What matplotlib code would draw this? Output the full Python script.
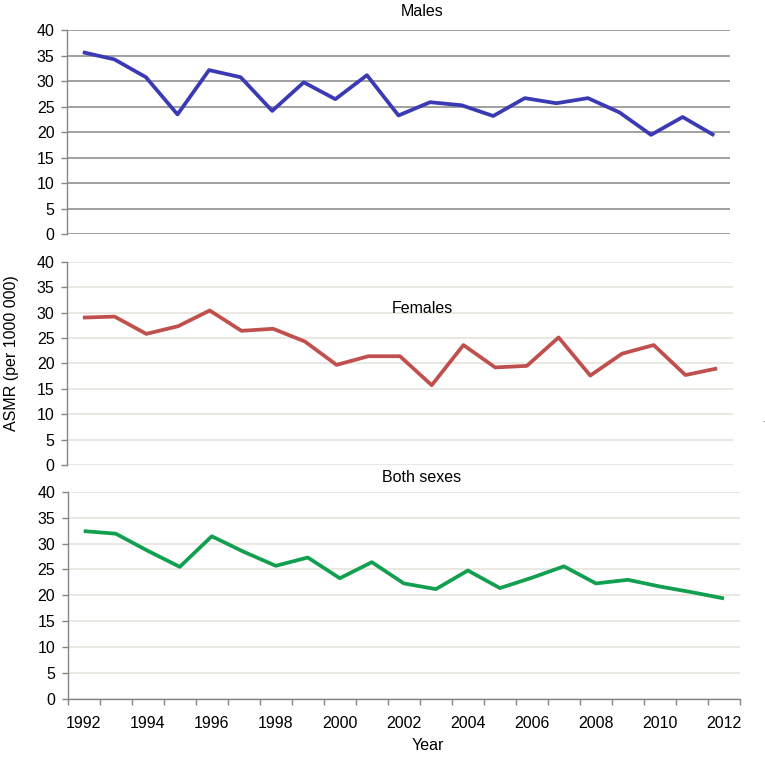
import matplotlib
matplotlib.use("Agg")
import matplotlib.pyplot as plt
import numpy as np

plt.rcParams['font.family'] = ['Liberation Sans', 'DejaVu Sans']

years = list(range(1992, 2013))
males = [35.7, 34.3, 30.8, 23.5, 32.2, 30.8, 24.2, 29.8, 26.5, 31.2, 23.3,
         25.9, 25.3, 23.2, 26.7, 25.7, 26.7, 23.9, 19.5, 23.0, 19.4]
females = [29.0, 29.2, 25.8, 27.3, 30.4, 26.4, 26.8, 24.3, 19.7, 21.4, 21.4,
           15.7, 23.6, 19.2, 19.5, 25.1, 17.6, 21.9, 23.6, 17.7, 19.0]
both = [32.4, 31.9, 28.6, 25.5, 31.4, 28.4, 25.7, 27.3, 23.3, 26.4, 22.3,
        21.2, 24.8, 21.4, 23.4, 25.6, 22.3, 23.0, 21.7, 20.6, 19.4]
titles = ["Males", "Females", "Both sexes"]
yticks = [0, 5, 10, 15, 20, 25, 30, 35, 40]

FS = 11.5
W, H = 765, 757
fig = plt.figure(figsize=(W / 100, H / 100), dpi=100)

def px_axes(l, r, t, b):
    return fig.add_axes([l / W, 1 - b / H, (r - l) / W, (b - t) / H])

panels = [
    dict(box=(67, 730, 30.3, 234.3), data=males, color="#3a3ab4", grid="#868686",
         title_y=12),
    dict(box=(67, 733, 261.7, 465), data=females, color="#c0504d", grid="#e4e1d8",
         title_y=309),
    dict(box=(67.7, 740, 491.7, 699), data=both, color="#12a050", grid="#e4e1d8",
         title_y=478),
]

x = np.arange(len(years))
for i, p in enumerate(panels):
    ax = px_axes(*p["box"])
    ax.plot(x, p["data"], color=p["color"], lw=2.7, solid_capstyle="butt", zorder=3)
    ax.set_xlim(-0.5, len(years) - 0.5)
    ax.set_ylim(0, 40)
    ax.set_yticks(yticks)
    ax.set_yticklabels([str(v) for v in yticks], fontsize=FS)
    for v in yticks:
        ax.axhline(v, color=p["grid"], lw=1.1, zorder=1)
    for s in ["top", "right", "bottom"]:
        ax.spines[s].set_visible(False)
    ax.spines["left"].set_color("#868686")
    ax.spines["left"].set_linewidth(1.0)
    ax.tick_params(axis="y", length=4, width=1, color="#868686", pad=5,
                   labelcolor="#000000")
    ax.patch.set_alpha(0)
    fig.text(422 / W, 1 - p["title_y"] / H, titles[i], ha="center", va="center",
             fontsize=FS)
    if i < 2:
        ax.set_xticks([])
    else:
        ax.spines["bottom"].set_visible(True)
        ax.spines["bottom"].set_color("#868686")
        ax.spines["bottom"].set_linewidth(1.0)
        ax.set_xticks(x[::2])
        ax.set_xticklabels([str(y) for y in years[::2]], fontsize=FS)
        ax.tick_params(axis="x", which="major", length=0, pad=12)
        ax.set_xticks(np.arange(-0.5, len(years)), minor=True)
        ax.tick_params(axis="x", which="minor", length=4, width=1, color="#868686")

fig.text(12 / W, 1 - 353 / H, "ASMR (per 1000 000)", rotation=90, ha="center",
         va="center", fontsize=FS)
fig.text(428 / W, 1 - 745 / H, "Year", ha="center", va="center", fontsize=FS)
fig.text(763 / W, 1 - 420 / H, ".", ha="center", va="center", fontsize=6)

fig.savefig("out.png", dpi=100, facecolor="white")
